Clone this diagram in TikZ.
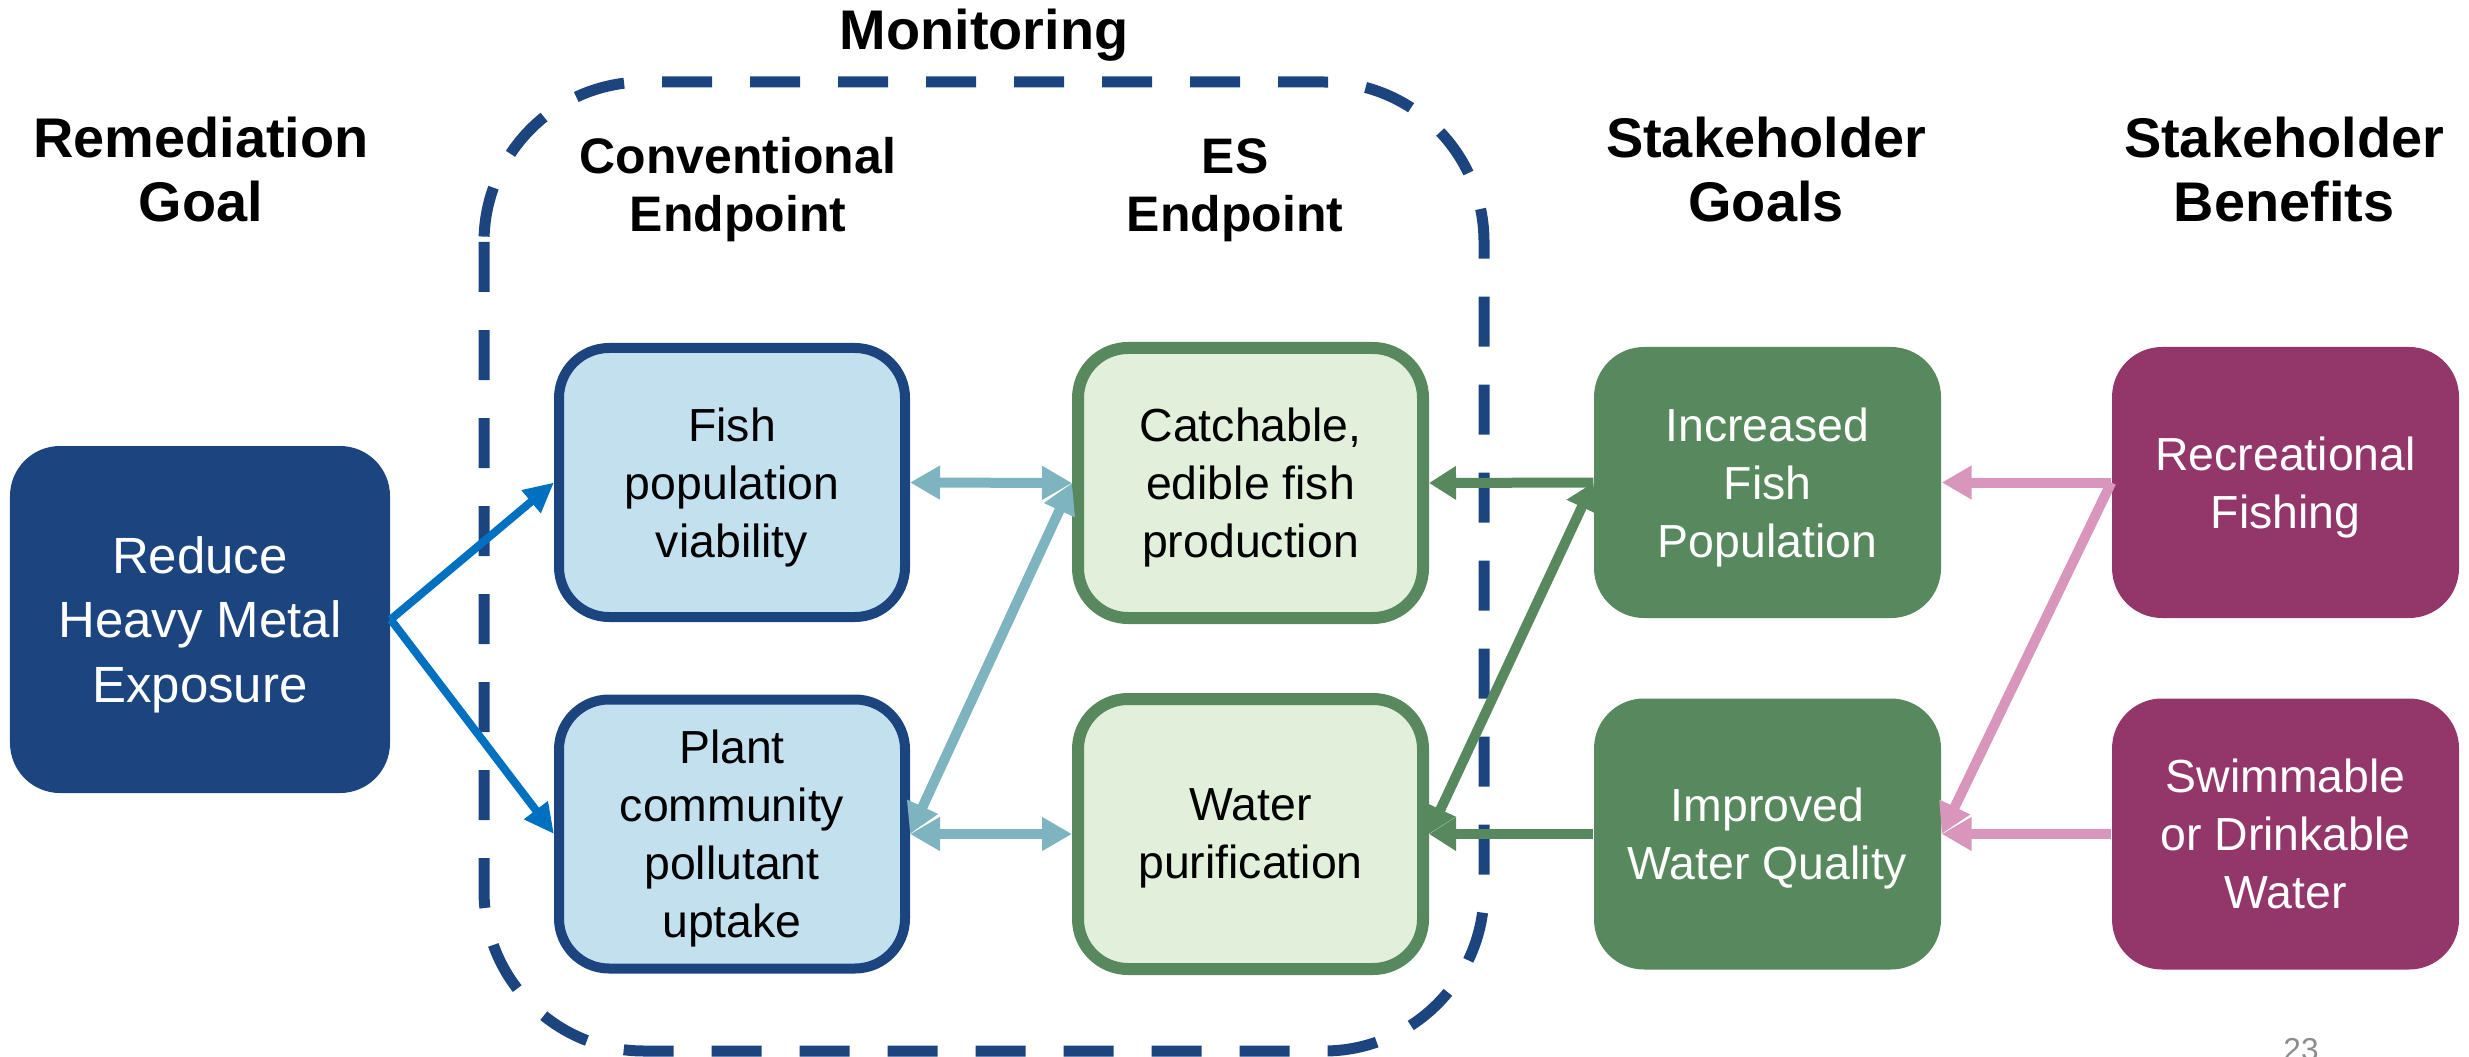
\documentclass[tikz,border=0pt]{standalone}
\usepackage{fontspec}
\setmainfont{Liberation Sans}
\usepackage{tikz}
\usetikzlibrary{arrows.meta}

\definecolor{navy}{RGB}{28,69,128}
\definecolor{paleblue}{RGB}{195,224,238}
\definecolor{palegreen}{RGB}{226,239,218}
\definecolor{leafgreen}{RGB}{88,137,94}
\definecolor{plum}{RGB}{147,55,107}
\definecolor{linkblue}{RGB}{0,112,192}
\definecolor{seafoam}{RGB}{125,180,192}
\definecolor{rosepink}{RGB}{216,150,188}

\begin{document}
\begin{tikzpicture}[
    heading/.style={font={\fontsize{15.9}{18.4}\selectfont\bfseries}, align=center, anchor=base, inner sep=0pt},
    subheading/.style={font={\fontsize{14.2}{16.7}\selectfont\bfseries}, align=center, anchor=base, inner sep=0pt},
    box/.style={rounded corners=0.5cm, inner sep=0pt, align=center, text depth=0pt,
        font={\fontsize{13.2}{16.5}\selectfont}},
    goalbox/.style={box, fill=navy, text=white, minimum width=3.80cm, minimum height=3.47cm,
        font={\fontsize{14.5}{18.3}\selectfont}},
    convbox/.style={box, draw=navy, line width=0.10cm, fill=paleblue, minimum width=3.46cm, minimum height=2.69cm},
    esbox/.style={box, draw=leafgreen, line width=0.12cm, fill=palegreen, minimum width=3.45cm, minimum height=2.70cm},
    sgoalbox/.style={box, fill=leafgreen, text=white, minimum width=3.47cm, minimum height=2.71cm},
    benefitbox/.style={box, fill=plum, text=white, minimum width=3.47cm, minimum height=2.71cm},
    bluearrow/.style={draw=linkblue, line width=0.08cm, -{Triangle[length=0.30cm, width=0.28cm]}},
    tealarrow/.style={draw=seafoam, line width=0.10cm, {Triangle[length=0.30cm, width=0.32cm]}-{Triangle[length=0.30cm, width=0.32cm]}},
    greenarrow/.style={draw=leafgreen, line width=0.10cm, -{Triangle[length=0.27cm, width=0.32cm]}},
    pinkarrow/.style={draw=rosepink, line width=0.10cm, -{Triangle[length=0.30cm, width=0.32cm]}}
]
\useasboundingbox (0,0) rectangle (24.69,-10.57);

% Monitoring frame
\draw[navy, line width=0.11cm, dash pattern=on 0.5cm off 0.38cm, rounded corners=1.6cm]
    (4.84,-0.82) rectangle (14.84,-10.51);

% Column headings (base = last line)
\node[heading] (monitoring) at (9.84,-0.50) {Monitoring};
\node[heading] (remhead) at (2.01,-2.22) {Remediation\\Goal};
\node[subheading] (convhead) at (7.38,-2.32) {Conventional\\Endpoint};
\node[subheading] (eshead) at (12.35,-2.32) {ES\\Endpoint};
\node[heading] (sgoalhead) at (17.66,-2.22) {Stakeholder\\Goals};
\node[heading] (benefithead) at (22.84,-2.22) {Stakeholder\\Benefits};

% Boxes
\node[goalbox] (reduce) at (2.00,-6.195) {Reduce\\Heavy Metal\\Exposure};

\node[convbox] (fishpop) at (7.32,-4.825) {Fish\\population\\viability};
\node[convbox] (plant) at (7.32,-8.34) {Plant\\community\\pollutant\\uptake};

\node[esbox] (catch) at (12.505,-4.83) {Catchable,\\edible fish\\production};
\node[esbox] (water) at (12.505,-8.34) {Water\\purification};

\node[sgoalbox] (fishinc) at (17.675,-4.825) {Increased\\Fish\\Population};
\node[sgoalbox] (wq) at (17.675,-8.34) {Improved\\Water Quality};

\node[benefitbox] (recfish) at (22.855,-4.825) {Recreational\\Fishing};
\node[benefitbox] (swim) at (22.855,-8.34) {Swimmable\\or Drinkable\\Water};

% Goal to conventional endpoints
\draw[bluearrow] (reduce.east) -- (fishpop.west);
\draw[bluearrow] (reduce.east) -- (plant.west);

% Conventional <-> ES endpoints
\draw[tealarrow] (fishpop.east) -- (catch.west);
\draw[tealarrow] (plant.east) -- (water.west);
\draw[tealarrow] (plant.east) -- (catch.west);

% Stakeholder goals to ES endpoints
\draw[greenarrow] (fishinc.west) -- (catch.east);
\draw[greenarrow] (wq.west) -- (water.east);
\draw[greenarrow, {Triangle[length=0.27cm, width=0.32cm]}-{Triangle[length=0.27cm, width=0.32cm]}] (water.east) -- (fishinc.west);

% Benefits to goals
\draw[pinkarrow] (recfish.west) -- (fishinc.east);
\draw[pinkarrow] (swim.west) -- (wq.east);
\draw[pinkarrow] (recfish.west) -- (wq.east);

% Slide number
\node[text=gray!90, font={\fontsize{9}{10}\selectfont}, anchor=base, inner sep=0pt] (pagenum) at (23.01,-10.60) {23};

\end{tikzpicture}
\end{document}
